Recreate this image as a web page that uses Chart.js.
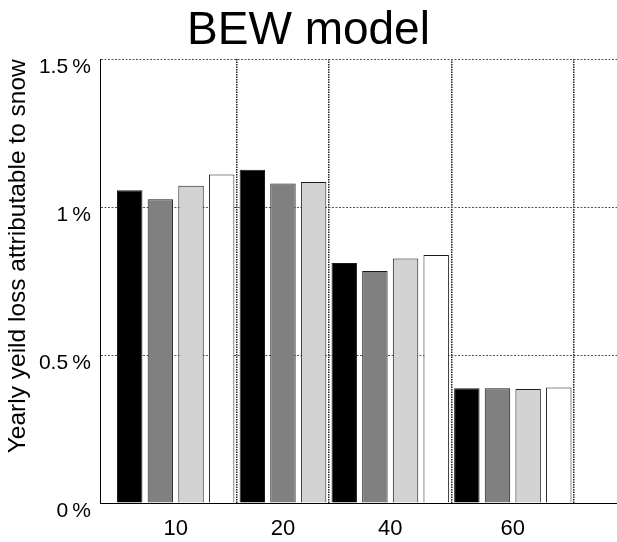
<!DOCTYPE html>
<html>
<head>
<meta charset="utf-8">
<script src="https://cdn.jsdelivr.net/npm/chart.js@4"></script>
<style>
  body { margin: 0; background: #fff; }
  #wrap { width: 617px; height: 542px; position: relative; }
</style>
</head>
<body>
<div id="wrap"><canvas id="chart"></canvas></div>
<script>
const categories = ['10', '20', '40', '60'];
const yTicks = [0, 0.5, 1, 1.5];

// yield loss in %, one array per bar shade (null = no bar)
const blackBars = [1.057, 1.126, 0.811, 0.388];
const grayBars  = [1.027, 1.080, 0.784, 0.388];
const lightBars = [1.072, 1.085, 0.826, 0.385];
const whiteBars = [1.110, null, 0.838, 0.390];

const series = [
    { values: blackBars, color: '#000000' },
    { values: grayBars,  color: '#808080' },
    { values: lightBars, color: '#d3d3d3' },
    { values: whiteBars, color: '#ffffff' },
];

// bars sit one slot apart, groups follow each other with no gap
const points = series.map(() => []);
const centers = [];
const bounds = [];
let slot = 0;
categories.forEach((cat, ci) => {
    const first = slot;
    series.forEach((s, si) => {
        if (s.values[ci] != null) {
            points[si].push({ x: slot, y: s.values[ci] });
            slot++;
        }
    });
    centers.push((first + slot - 1) / 2);
    bounds.push(slot - 0.5);
});

const xMin = -0.97;
const xMax = 15.9;

const font = 'Liberation Sans, Arial, sans-serif';

const datasets = series.map((s, i) => ({
    data: points[i],
    backgroundColor: s.color,
    borderColor: '#1a1a1a',
    borderWidth: 1,
    categoryPercentage: 1,
    barPercentage: 0.83,
    grouped: false,
}));

new Chart(document.getElementById('chart'), {
    type: 'bar',
    data: { datasets: datasets },
    options: {
        responsive: true,
        maintainAspectRatio: false,
        animation: false,
        layout: { padding: 0 },
        plugins: {
            legend: { display: false },
            tooltip: { enabled: false },
            title: {
                display: true,
                text: 'BEW model',
                color: '#000',
                font: { family: font, size: 46, weight: 'normal', lineHeight: 1.2 },
                padding: { top: 4, bottom: 0 },
            },
        },
        scales: {
            x: {
                type: 'linear',
                offset: false,
                min: xMin,
                max: xMax,
                afterBuildTicks: (scale) => {
                    scale.ticks = centers.map(v => ({ value: v }));
                },
                afterFit: (scale) => { scale.height = 39; },
                ticks: {
                    callback: (value, index) => categories[index],
                    color: '#000',
                    font: { family: font, size: 22 },
                    padding: 13,
                    maxRotation: 0,
                },
                grid: { display: false, drawTicks: false, offset: false },
                border: { display: true, color: '#000', width: 1 },
            },
            x2: {
                type: 'linear',
                position: 'top',
                offset: false,
                min: xMin,
                max: xMax,
                afterBuildTicks: (scale) => {
                    scale.ticks = bounds.map(v => ({ value: v }));
                },
                afterFit: (scale) => { scale.height = 0; },
                ticks: { display: false },
                grid: { color: '#222', lineWidth: 1.5, drawTicks: false, offset: false },
                border: { display: false, dash: [1.5, 1] },
            },
            y: {
                min: 0,
                max: 1.5,
                afterBuildTicks: (scale) => {
                    scale.ticks = yTicks.map(v => ({ value: v }));
                },
                afterFit: (scale) => { scale.width = 100; },
                ticks: {
                    callback: (value) => value + '\u2009%',
                    color: '#000',
                    font: { family: font, size: 21 },
                    padding: 9,
                    labelOffset: 8,
                },
                grid: { color: '#555', lineWidth: 1, drawTicks: false },
                border: { display: true, color: '#000', width: 1, dash: [2, 1.5] },
                title: {
                    display: true,
                    text: 'Yearly yeild loss attributable to snow',
                    align: 'end',
                    color: '#000',
                    font: { family: font, size: 24.5 },
                    padding: { top: 4, bottom: 0 },
                },
            },
        },
    },
});
</script>
</body>
</html>
